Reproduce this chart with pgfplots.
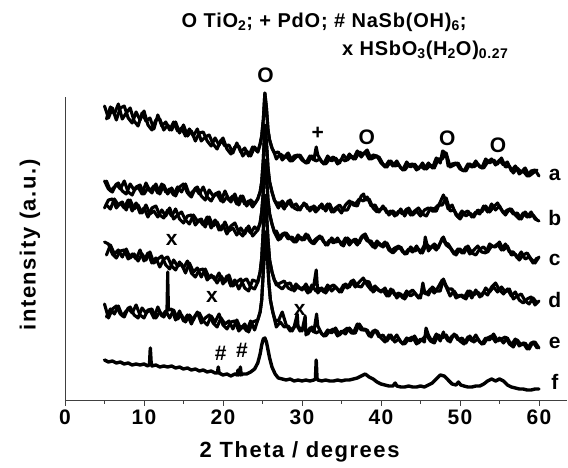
\documentclass[border=0pt]{standalone}
\usepackage{fontspec}
\setmainfont{Liberation Sans}
\usepackage{pgfplots}
\pgfplotsset{compat=1.18}
\newcommand{\lbl}{\fontsize{21}{25}\selectfont\bfseries\addfontfeature{LetterSpace=4}}
\tikzset{tr/.style={black, line width=3.1pt, line join=round, line cap=round, mark=none}}
\begin{document}
\begin{tikzpicture}[font=\bfseries]
\begin{axis}[
 at={(0pt,0pt)}, anchor=south west,
 scale only axis, width=501.65pt, height=303pt,
 xmin=0, xmax=63.5, ymin=0, ymax=303,
 axis x line=bottom, axis y line=left,
 axis line style={-, black!75, line width=0.8pt},
 xtick={0,10,...,60}, minor xtick={5,15,...,55},
 ytick=\empty,
 tick align=outside, major tick length=6pt, minor tick length=4pt,
 tick style={black!75, line width=0.8pt},
 /pgf/number format/assume math mode=true,
 xticklabel style={font=\fontsize{21}{24}\selectfont\bfseries\addfontfeature{LetterSpace=6}},
 clip=false,
]
% a
\addplot[tr] coordinates {(5,294)(5.5,282)(6,292)(6.5,280)(7,292)(7.5,294)(8,282)(8.5,277)(9,288)(9.5,280)(10,289)(10.5,275)(11,270)(11.5,280)(12,281)(12.5,270)(13,275)(13.5,270)(14,278)(14.5,267)(15,275)(15.5,264)(16,269)(16.5,259)(17,267)(17.5,268)(18,259)(18.5,254)(19,262)(19.5,255)(20,262)(20.5,251)(21,246)(21.5,253)(22,254)(22.5,244)(23,249)(23.5,244)(24,253)(24.4,248)(24.7,256)(24.9,264)(25.1,280)(25.3,307)(25.5,292)(25.7,270)(25.9,260)(26.2,252)(26.5,247)(27,248)(27.5,240)(28,244)(28.5,239)(29,244)(29.5,245)(30,240)(30.5,237)(31,244)(31.5,240)(31.8,253)(32,245)(32.5,238)(33,236)(33.5,241)(34,243)(34.5,236)(35,241)(35.5,239)(36,246)(36.5,241)(37,249)(37.5,243)(38,248)(38.5,241)(39,245)(39.5,244)(40,237)(40.5,233)(41,239)(41.5,234)(42,239)(42.5,232)(43,230)(43.5,235)(44,236)(44.5,230)(45,234)(45.5,231)(46,237)(46.5,232)(47,242)(47.5,237)(47.8,249)(48,248)(48.3,243)(48.5,234)(49,236)(49.5,237)(50,231)(50.5,229)(51,236)(51.5,233)(52,239)(52.5,233)(53,232)(53.5,238)(54,241)(54.5,235)(55,240)(55.5,235)(56,238)(56.5,229)(57,234)(57.5,226)(58,229)(58.5,224)(59,229)(59.5,230)(60,224)};
\addplot[tr] coordinates {(5.25,281)(5.75,293)(6.25,286)(6.75,296)(7.25,281)(7.75,287)(8.25,292)(8.75,279)(9.25,274)(9.75,287)(10.25,279)(10.75,282)(11.25,271)(11.75,285)(12.25,274)(12.75,278)(13.25,270)(13.75,278)(14.25,269)(14.75,272)(15.25,264)(15.75,271)(16.25,264)(16.75,271)(17.25,259)(17.75,263)(18.25,265)(18.75,256)(19.25,251)(19.75,260)(20.25,254)(20.75,255)(21.25,247)(21.75,257)(22.25,248)(22.75,252)(23.25,244)(23.75,253)(24.4,248)(24.7,256)(24.9,264)(25.1,280)(25.3,307)(25.5,292)(25.7,270)(25.9,260)(26.2,252)(26.5,247)(26.75,241)(27.25,246)(27.75,243)(28.25,247)(28.75,239)(29.25,243)(29.75,245)(30.25,239)(30.75,237)(31.25,244)(31.75,239)(32.25,241)(32.75,236)(33.25,244)(33.75,239)(34.25,242)(34.75,237)(35.25,245)(35.75,240)(36.25,244)(36.75,241)(37.25,248)(37.75,246)(38.25,250)(38.75,241)(39.25,243)(39.75,243)(40.25,236)(40.75,233)(41.25,239)(41.75,234)(42.25,235)(42.75,230)(43.25,238)(43.75,233)(44.25,236)(44.75,231)(45.25,237)(45.75,231)(46.25,235)(46.75,232)(47.25,241)(47.75,241)(48.25,247)(48.75,233)(49.25,235)(49.75,237)(50.25,230)(50.75,229)(51.25,236)(51.75,233)(52.25,236)(52.75,232)(53.25,241)(53.75,237)(54.25,240)(54.75,236)(55.25,242)(55.75,233)(56.25,234)(56.75,227)(57.25,232)(57.75,228)(58.25,232)(58.75,224)(59.25,227)(59.75,230)};
% b
\addplot[tr] coordinates {(5,219)(5.5,211)(6,208)(6.5,216)(7,211)(7.5,219)(8,208)(8.5,205)(9,213)(9.5,215)(10,206)(10.5,212)(11,207)(11.5,216)(12,206)(12.5,215)(13,206)(13.5,212)(14,204)(14.5,213)(15,216)(15.5,207)(16,203)(16.5,212)(17,206)(17.5,213)(18,203)(18.5,199)(19,206)(19.5,208)(20,198)(20.5,203)(21,198)(21.5,206)(22,195)(22.5,204)(23,194)(23.5,200)(24,196)(24.4,201)(24.7,208)(24.9,218)(25.1,240)(25.3,275)(25.5,258)(25.7,232)(25.9,218)(26.2,208)(26.5,200)(27,192)(27.5,199)(28,194)(28.5,200)(29,192)(29.5,190)(30,194)(30.5,196)(31,189)(31.5,194)(32,190)(32.5,196)(33,189)(33.5,196)(34,188)(34.5,192)(35,187)(35.5,195)(36,199)(36.5,195)(37,194)(37.5,204)(37.8,206)(38,200)(38.5,201)(39,192)(39.5,188)(40,191)(40.5,192)(41,185)(41.5,189)(42,185)(42.5,191)(43,184)(43.5,192)(44,185)(44.5,189)(45,184)(45.5,190)(46,192)(46.5,189)(47,189)(47.5,198)(47.9,205)(48.2,199)(48.5,191)(49,195)(49.5,185)(50,181)(50.5,187)(51,189)(51.5,183)(52,188)(52.5,186)(53,194)(53.5,188)(54,196)(54.5,190)(55,194)(55.5,187)(56,190)(56.5,191)(57,185)(57.5,181)(58,187)(58.5,183)(59,188)(59.5,181)(60,179)};
\addplot[tr] coordinates {(5.25,219)(5.75,209)(6.25,213)(6.75,217)(7.25,209)(7.75,206)(8.25,216)(8.75,210)(9.25,213)(9.75,206)(10.25,217)(10.75,209)(11.25,214)(11.75,207)(12.25,216)(12.75,208)(13.25,211)(13.75,205)(14.25,213)(14.75,208)(15.25,216)(15.75,205)(16.25,209)(16.75,213)(17.25,204)(17.75,200)(18.25,210)(18.75,204)(19.25,206)(19.75,199)(20.25,209)(20.75,200)(21.25,204)(21.75,196)(22.25,204)(22.75,196)(23.25,199)(23.75,193)(24.4,201)(24.7,208)(24.9,218)(25.1,240)(25.3,275)(25.5,258)(25.7,232)(25.9,218)(26.2,208)(26.5,200)(26.75,197)(27.25,197)(27.75,191)(28.25,199)(28.75,193)(29.25,196)(29.75,190)(30.25,197)(30.75,191)(31.25,193)(31.75,188)(32.25,194)(32.75,191)(33.25,196)(33.75,188)(34.25,192)(34.75,195)(35.25,190)(35.75,190)(36.25,198)(36.75,196)(37.25,201)(37.75,199)(38.25,203)(38.75,194)(39.25,195)(39.75,188)(40.25,194)(40.75,187)(41.25,189)(41.75,184)(42.25,189)(42.75,186)(43.25,191)(43.75,185)(44.25,189)(44.75,192)(45.25,186)(45.75,184)(46.25,192)(46.75,191)(47.25,195)(47.75,195)(48.25,202)(48.75,189)(49.25,190)(49.75,183)(50.25,189)(50.75,184)(51.25,187)(51.75,183)(52.25,190)(52.75,188)(53.25,194)(53.75,188)(54.25,193)(54.75,197)(55.25,190)(55.75,185)(56.25,191)(56.75,186)(57.25,187)(57.75,181)(58.25,188)(58.75,183)(59.25,185)(59.75,180)};
% c
\addplot[tr] coordinates {(5,192)(5.5,200)(6,201)(6.5,192)(7,197)(7.5,192)(8,200)(8.5,189)(9,197)(9.5,187)(10,192)(10.5,183)(11,192)(11.5,194)(12,185)(12.5,182)(13,190)(13.5,184)(14,191)(14.5,181)(15,177)(15.5,184)(16,185)(16.5,175)(17,180)(17.5,175)(18,183)(18.5,172)(19,180)(19.5,170)(20,175)(20.5,166)(21,174)(21.5,177)(22,168)(22.5,164)(23,172)(23.5,167)(24,173)(24.4,170)(24.7,177)(24.9,188)(25.1,208)(25.3,240)(25.5,225)(25.7,200)(25.9,186)(26.2,176)(26.5,168)(27,160)(27.5,166)(28,167)(28.5,162)(29,158)(29.5,165)(30,160)(30.5,166)(31,159)(31.5,156)(32,161)(32.5,163)(33,155)(33.5,160)(34,157)(34.5,162)(35,155)(35.5,162)(36,155)(36.5,160)(37,155)(37.5,163)(38,166)(38.5,158)(39,153)(39.5,159)(40,154)(40.5,158)(41,150)(41.5,147)(42,151)(42.5,153)(43,146)(43.5,151)(44,148)(44.5,154)(45,147)(45.5,155)(45.6,163)(46,149)(46.5,154)(47,150)(47.5,157)(47.9,163)(48.2,157)(48.5,156)(49,150)(49.5,145)(50,151)(50.5,147)(51,154)(51.5,147)(52,145)(52.5,151)(53,153)(53.5,148)(54,154)(54.5,153)(55,158)(55.5,150)(56,154)(56.5,145)(57,146)(57.5,140)(58,145)(58.5,147)(59,141)(59.5,137)(60,143)};
\addplot[tr] coordinates {(5.25,195)(5.75,191)(6.25,201)(6.75,195)(7.25,198)(7.75,190)(8.25,200)(8.75,191)(9.25,195)(9.75,187)(10.25,195)(10.75,186)(11.25,189)(11.75,183)(12.25,190)(12.75,184)(13.25,192)(13.75,181)(14.25,185)(14.75,188)(15.25,180)(15.75,176)(16.25,185)(16.75,179)(17.25,181)(17.75,173)(18.25,183)(18.75,174)(19.25,178)(19.75,170)(20.25,178)(20.75,169)(21.25,172)(21.75,165)(22.25,172)(22.75,166)(23.25,174)(23.75,164)(24.4,170)(24.7,177)(24.9,188)(25.1,208)(25.3,240)(25.5,225)(25.7,200)(25.9,186)(26.2,176)(26.5,168)(26.75,169)(27.25,161)(27.75,167)(28.25,161)(28.75,163)(29.25,158)(29.75,163)(30.25,160)(30.75,165)(31.25,157)(31.75,161)(32.25,164)(32.75,158)(33.25,155)(33.75,162)(34.25,158)(34.75,159)(35.25,154)(35.75,162)(36.25,158)(36.75,161)(37.25,157)(37.75,165)(38.25,159)(38.75,159)(39.25,152)(39.75,157)(40.25,153)(40.75,157)(41.25,149)(41.75,152)(42.25,154)(42.75,148)(43.25,146)(43.75,153)(44.25,149)(44.75,151)(45.25,147)(45.75,156)(46.25,152)(46.75,156)(47.25,152)(47.75,162)(48.25,155)(48.75,152)(49.25,146)(49.75,151)(50.25,147)(50.75,153)(51.25,146)(51.75,150)(52.25,154)(52.75,148)(53.25,147)(53.75,156)(54.25,153)(54.75,156)(55.25,150)(55.75,156)(56.25,148)(56.75,148)(57.25,142)(57.75,148)(58.25,141)(58.75,143)(59.25,137)(59.75,142)};
% d
\addplot[tr] coordinates {(5,158)(5.5,156)(6,146)(6.5,142)(7,149)(7.5,150)(8,141)(8.5,146)(9,141)(9.5,150)(10,139)(10.5,147)(11,137)(11.5,142)(12,133)(12.5,141)(13,143)(13.5,134)(14,130)(14.5,138)(15,132)(15.5,139)(16,127)(16.5,123)(17,130)(17.5,131)(18,120)(18.5,125)(19,120)(19.5,127)(20,116)(20.5,124)(21,114)(21.5,120)(22,111)(22.5,119)(23,121)(23.5,113)(24,111)(24.4,118)(24.7,128)(24.9,142)(25.1,170)(25.3,205)(25.5,188)(25.7,160)(25.9,140)(26.2,128)(26.5,120)(27,114)(27.5,111)(28,116)(28.5,117)(29,109)(29.5,114)(30,110)(30.5,116)(31,108)(31.5,115)(31.8,130)(32,107)(32.5,112)(33,107)(33.5,113)(34,115)(34.5,111)(35,108)(35.5,116)(36,113)(36.5,120)(37,114)(37.5,113)(38,119)(38.5,118)(39,108)(39.5,112)(40,108)(40.5,112)(41,104)(41.5,110)(42,102)(42.5,106)(43,101)(43.5,107)(44,110)(44.5,105)(45,102)(45.3,117)(45.5,109)(46,105)(46.5,113)(47,109)(47.5,109)(47.9,121)(48.2,115)(48.5,111)(49,111)(49.5,102)(50,105)(50.5,102)(51,109)(51.5,102)(52,110)(52.5,103)(53,108)(53.5,105)(54,113)(54.5,117)(55,110)(55.5,106)(56,111)(56.5,104)(57,108)(57.5,100)(58,97)(58.5,101)(59,103)(59.5,95)(60,99)};
\addplot[tr] coordinates {(5.25,145)(5.75,155)(6.25,146)(6.75,150)(7.25,143)(7.75,151)(8.25,142)(8.75,146)(9.25,139)(9.75,146)(10.25,140)(10.75,148)(11.25,137)(11.75,141)(12.25,144)(12.75,135)(13.25,131)(13.75,140)(14.25,134)(14.75,136)(15.25,127)(15.75,137)(16.25,128)(16.75,132)(17.25,123)(17.75,131)(18.25,122)(18.75,124)(19.25,117)(19.75,124)(20.25,118)(20.75,125)(21.25,114)(21.75,118)(22.25,121)(22.75,112)(23.25,109)(23.75,120)(24.4,118)(24.7,128)(24.9,142)(25.1,170)(25.3,205)(25.5,188)(25.7,160)(25.9,140)(26.2,128)(26.5,120)(26.75,115)(27.25,117)(27.75,119)(28.25,112)(28.75,110)(29.25,116)(29.75,111)(30.25,113)(30.75,107)(31.25,115)(31.75,109)(32.25,112)(32.75,108)(33.25,115)(33.75,109)(34.25,113)(34.75,108)(35.25,115)(35.75,112)(36.25,119)(36.75,113)(37.25,118)(37.75,122)(38.25,115)(38.75,110)(39.25,114)(39.75,109)(40.25,110)(40.75,104)(41.25,111)(41.75,105)(42.25,107)(42.75,102)(43.25,109)(43.75,104)(44.25,107)(44.75,102)(45.25,108)(45.75,106)(46.25,111)(46.75,107)(47.25,113)(47.75,120)(48.25,113)(48.75,104)(49.25,109)(49.75,103)(50.25,105)(50.75,101)(51.25,109)(51.75,105)(52.25,108)(52.75,104)(53.25,112)(53.75,108)(54.25,113)(54.75,108)(55.25,113)(55.75,108)(56.25,111)(56.75,101)(57.25,104)(57.75,106)(58.25,99)(58.75,96)(59.25,102)(59.75,97)};
% e
\addplot[tr] coordinates {(5,96)(5.5,82)(6,91)(6.5,94)(7,86)(7.5,83)(8,92)(8.5,87)(9,95)(9.5,85)(10,82)(10.5,90)(11,91)(11.5,82)(12,88)(12.5,83)(12.9,88)(13,128)(13.1,90)(13.5,91)(14,80)(14.5,89)(15,79)(15.5,85)(16,76)(16.5,85)(17,87)(17.5,79)(18,75)(18.5,84)(19,78)(19.5,86)(20,75)(20.5,71)(21,78)(21.5,79)(22,69)(22.5,74)(23,69)(23.5,79)(24,70)(24.4,80)(24.7,88)(24.9,100)(25.1,128)(25.4,168)(25.6,145)(25.8,118)(26,100)(26.3,88)(26.6,80)(27,79)(27.5,88)(28,75)(28.5,69)(29,73)(29.4,86)(29.5,74)(30,69)(30.4,84)(30.5,65)(31,72)(31.5,68)(31.85,86)(32,74)(32.5,66)(33,64)(33.5,69)(34,71)(34.5,64)(35,69)(35.5,66)(36,72)(36.5,67)(37,76)(37.5,70)(38,71)(38.5,64)(39,69)(39.5,69)(40,62)(40.5,58)(41,65)(41.5,60)(42,65)(42.5,58)(43,56)(43.5,61)(44,63)(44.5,56)(45,61)(45.5,58)(45.7,72)(46,65)(46.5,58)(47,66)(47.5,59)(47.9,68)(48,65)(48.5,59)(49,64)(49.5,65)(50,59)(50.5,56)(51,63)(51.5,59)(52,65)(52.5,58)(53,56)(53.5,62)(54,64)(54.5,58)(55,62)(55.5,57)(56,62)(56.5,55)(57,61)(57.5,54)(58,57)(58.5,51)(59,57)(59.5,58)(60,52)};
\addplot[tr] coordinates {(5.25,83)(5.75,91)(6.25,86)(6.75,94)(7.25,84)(7.75,89)(8.25,93)(8.75,85)(9.25,82)(9.75,92)(10.25,87)(10.75,90)(11.25,82)(11.75,93)(12.25,84)(12.75,89)(13.25,82)(13.75,90)(14.25,81)(14.75,85)(15.25,78)(15.75,85)(16.25,80)(16.75,88)(17.25,77)(17.75,82)(18.25,85)(18.75,77)(19.25,73)(19.75,82)(20.25,76)(20.75,79)(21.25,71)(21.75,80)(22.25,71)(22.75,76)(23.25,68)(23.75,78)(24.4,80)(24.7,88)(24.9,100)(25.1,128)(25.4,168)(25.6,145)(25.8,118)(26,100)(26.3,88)(26.75,73)(27.25,78)(27.75,73)(28.25,74)(28.75,69)(29.25,76)(29.75,69)(30.25,72)(30.75,66)(31.25,73)(31.75,67)(32.25,69)(32.75,64)(33.25,70)(33.75,67)(34.25,72)(34.75,65)(35.25,69)(35.75,72)(36.25,67)(36.75,67)(37.25,76)(37.75,70)(38.25,70)(38.75,63)(39.25,70)(39.75,63)(40.25,65)(40.75,59)(41.25,65)(41.75,58)(42.25,61)(42.75,56)(43.25,62)(43.75,59)(44.25,64)(44.75,57)(45.25,61)(45.75,65)(46.25,59)(46.75,57)(47.25,65)(47.75,62)(48.25,65)(48.75,58)(49.25,66)(49.75,60)(50.25,62)(50.75,57)(51.25,64)(51.75,58)(52.25,61)(52.75,56)(53.25,62)(53.75,60)(54.25,66)(54.75,59)(55.25,61)(55.75,63)(56.25,56)(56.75,53)(57.25,60)(57.75,55)(58.25,57)(58.75,51)(59.25,58)(59.75,52)};
% f
\addplot[tr, line width=3.4pt] coordinates {(5,40)(5.5,38)(6,39)(6.5,37)(7,38)(7.5,36)(8,37)(8.5,35)(9,36)(9.5,35)(10,36)(10.5,34)(10.7,36)(10.8,52)(10.9,38)(11,34)(11.5,35)(12,33)(12.5,34)(13,33)(13.5,34)(14,32)(14.5,33)(15,31)(15.5,32)(16,30)(16.5,31)(17,29)(17.5,30)(18,28)(18.5,29)(19,27)(19.3,27)(19.4,33)(19.5,27)(20,25)(20.5,26)(21,24)(21.5,26)(21.8,25)(21.9,30)(22,25)(22.1,26)(22.2,33)(22.3,25)(22.5,26)(23,26)(23.5,28)(24,31)(24.4,37)(24.7,46)(24.9,55)(25.1,61)(25.3,62)(25.5,58)(25.7,50)(25.9,42)(26.2,33)(26.6,26)(27,22)(27.5,21)(28,20)(28.5,21)(29,19)(29.5,20)(30,19)(30.5,20)(31,19)(31.5,20)(31.7,21)(31.8,40)(31.9,22)(32,20)(32.5,19)(33,20)(33.5,19)(34,19)(34.5,20)(35,19)(35.5,20)(36,20)(36.5,21)(37,22)(37.5,24)(38,26)(38.5,23)(39,21)(39.5,18)(40,16)(40.5,15)(41,14)(41.5,14)(41.8,17)(42,14)(42.5,13)(43,13)(43.5,14)(44,13)(44.5,13)(45,14)(45.5,13)(46,15)(46.5,17)(47,21)(47.5,25)(48,24)(48.5,20)(49,16)(49.5,15)(49.8,18)(50.1,15)(50.5,14)(51,13)(51.5,13)(52,14)(52.5,14)(53,16)(53.5,19)(54,21)(54.5,19)(55,21)(55.5,19)(56,15)(56.5,13)(57,12)(57.5,11)(58,11)(58.5,10)(59,10)(59.5,11)(60,11)};
% trace letters and marks
\begin{scope}[font=\lbl]
\node at (axis cs:62,225) {a};
\node at (axis cs:62,182) {b};
\node at (axis cs:62,140) {c};
\node at (axis cs:62,100) {d};
\node at (axis cs:62,57) {e};
\node at (axis cs:62,18) {f};
\node at (axis cs:25.4,325) {O};
\node at (axis cs:32,267) {+};
\node at (axis cs:38.2,263) {O};
\node at (axis cs:48.4,262) {O};
\node at (axis cs:54.8,255) {O};
\node at (axis cs:13.5,160) {x};
\node at (axis cs:18.6,103) {x};
\node at (axis cs:29.7,90) {x};
\node at (axis cs:19.7,47) {\#};
\node at (axis cs:22.4,50) {\#};
\end{scope}
\node[font=\fontsize{22}{26}\selectfont\bfseries\addfontfeature{LetterSpace=7}] at (axis cs:29.7,-52) {2 Theta / degrees};
\node[rotate=90, font=\fontsize{22}{26}\selectfont\bfseries\addfontfeature{LetterSpace=7}] at (axis cs:-4.43,155) {intensity (a.u.)};
\begin{scope}[font=\fontsize{20}{24}\selectfont\bfseries\addfontfeature{LetterSpace=4}]
\node at (axis cs:32.8,378) {O TiO\textsubscript{2}; + PdO; \# NaSb(OH)\textsubscript{6};};
\node at (axis cs:45.6,350) {x HSbO\textsubscript{3}(H\textsubscript{2}O)\textsubscript{0.27}};
\end{scope}
\end{axis}
\pgfresetboundingbox
\path (-65pt,-68pt) rectangle (503pt,400pt);
\end{tikzpicture}
\end{document}
